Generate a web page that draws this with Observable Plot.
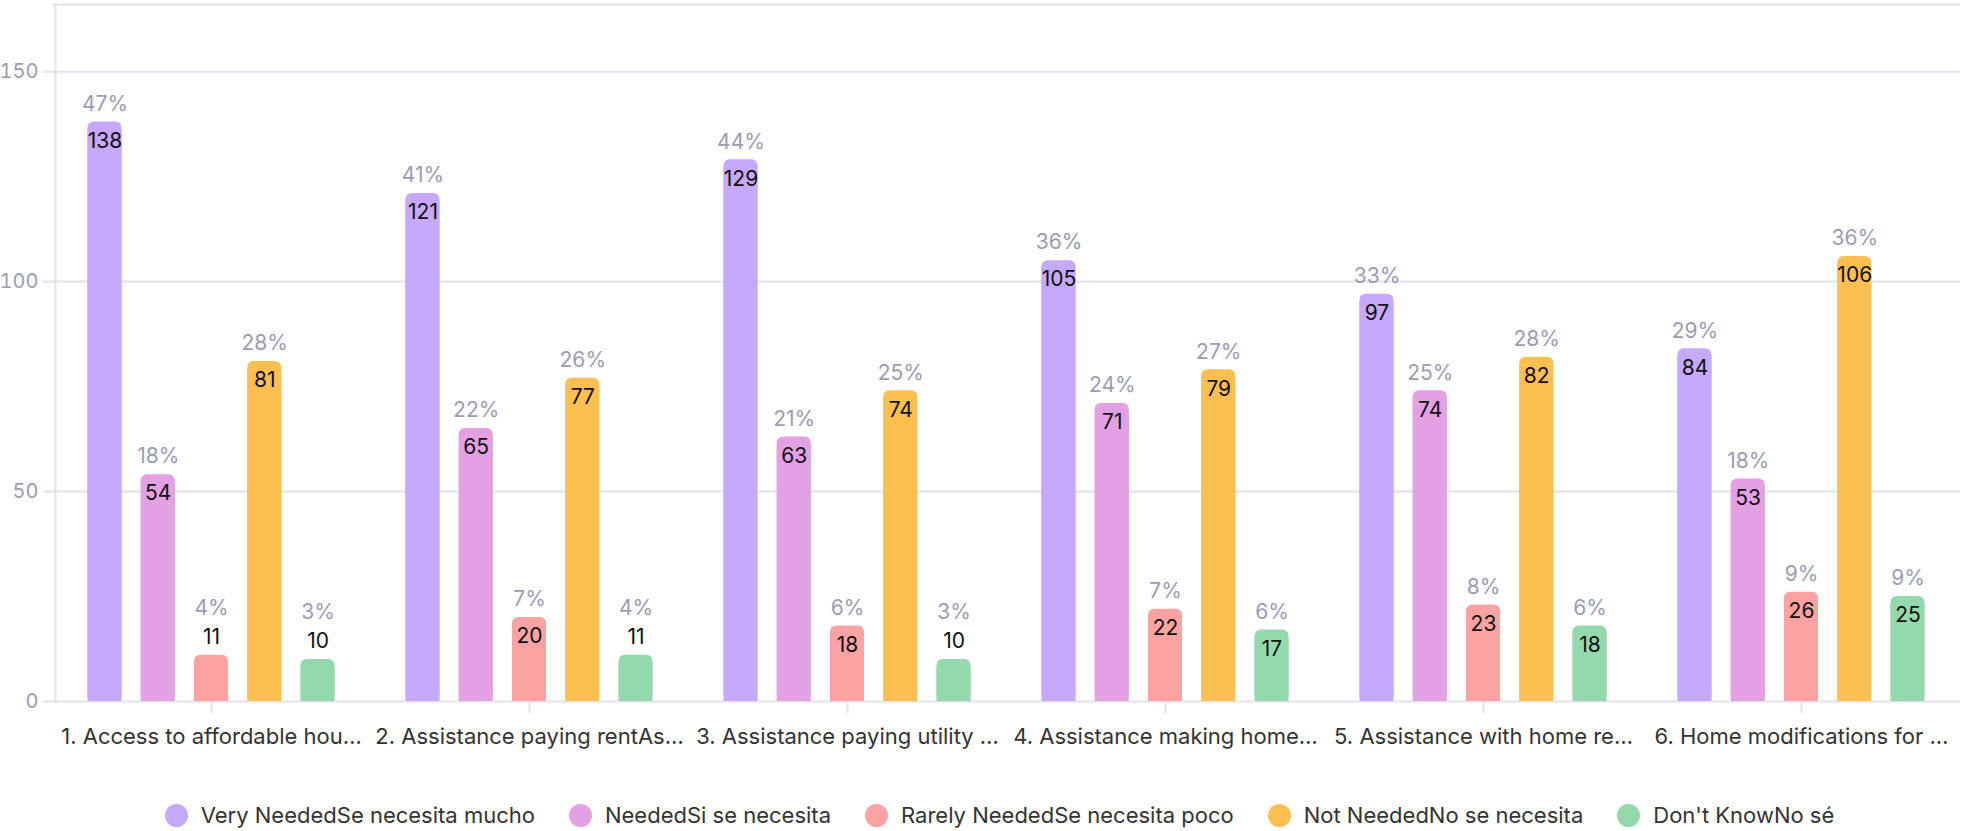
<!DOCTYPE html>
<html><head><meta charset="utf-8">
<script src="https://cdn.jsdelivr.net/npm/d3@7"></script>
<script src="https://cdn.jsdelivr.net/npm/@observablehq/plot@0.6"></script>
<style>
body{margin:0;background:#fff;font-family:Inter, sans-serif;}
#legend{display:flex;justify-content:center;align-items:center;gap:34px;height:30px;margin-top:30px;padding-left:38px;font-size:22px;color:#333;font-family:Inter, sans-serif;}
.item{display:flex;align-items:center;gap:13px;white-space:nowrap}
.sw{width:23px;height:23px;border-radius:50%}
</style></head><body><div id="chart"></div><div id="legend"></div>
<script>
const questions = [
  "1. Access to affordable hou…",
  "2. Assistance paying rentAs…",
  "3. Assistance paying utility …",
  "4. Assistance making home…",
  "5. Assistance with home re…",
  "6. Home modifications for …"
];
const series = [
  "Very NeededSe necesita mucho",
  "NeededSi se necesita",
  "Rarely NeededSe necesita poco",
  "Not NeededNo se necesita",
  "Don't KnowNo sé"
];
const colors = ["#c6a8fc", "#e3a0e3", "#fba3a3", "#fdbf50", "#94d9ab"];

const veryNeeded = [138, 121, 129, 105, 97, 84];
const needed     = [54, 65, 63, 71, 74, 53];
const rarely     = [11, 20, 18, 22, 23, 26];
const notNeeded  = [81, 77, 74, 79, 82, 106];
const dontKnow   = [10, 11, 10, 17, 18, 25];

const veryNeededPct = [47, 41, 44, 36, 33, 29];
const neededPct     = [18, 22, 21, 24, 25, 18];
const rarelyPct     = [4, 7, 6, 7, 8, 9];
const notNeededPct  = [28, 26, 25, 27, 28, 36];
const dontKnowPct   = [3, 4, 3, 6, 6, 9];

const yTicks = [0, 50, 100, 150];
const yMax = 166;

const counts = [veryNeeded, needed, rarely, notNeeded, dontKnow];
const pcts = [veryNeededPct, neededPct, rarelyPct, notNeededPct, dontKnowPct];
const rows = [];
questions.forEach((q, i) => series.forEach((s, j) => rows.push({question: q, series: s, value: counts[j][i], pct: pcts[j][i]})));
const inside = rows.filter(d => d.value >= 15);
const outside = rows.filter(d => d.value < 15);

const grid = "#e1e2ec";
const muted = "#9b9cb4";
const base = {fx: "question", x: "series", y: "value"};

const chart = Plot.plot({
  width: 1961, height: 770,
  marginTop: 4, marginLeft: 52, marginRight: 1, marginBottom: 69,
  style: {fontFamily: "Inter, sans-serif", fontSize: "21px", background: "#fff", overflow: "visible"},
  fx: {domain: questions, padding: 0, round: false, label: null},
  x: {domain: series, paddingInner: 0.362, paddingOuter: 0.666, round: false, axis: null},
  y: {domain: [0, yMax], label: null},
  color: {domain: series, range: colors},
  marks: [
    Plot.gridY(yTicks, {stroke: grid, strokeOpacity: 1, strokeWidth: 2}),
    Plot.ruleY([yMax], {stroke: grid, strokeWidth: 2}),
    Plot.frame({anchor: "left", facetAnchor: "left", stroke: grid, strokeWidth: 2, dx: 3}),
    Plot.axisY(yTicks, {tickSize: 12, tickPadding: 5, dx: 3, stroke: grid, strokeOpacity: 1, strokeWidth: 2, fill: muted, label: null, fontSize: 20}),
    Plot.axisFx({anchor: "bottom", tickSize: 12, tickPadding: 15, stroke: grid, strokeOpacity: 1, strokeWidth: 2, fill: "#333", label: null, fontSize: 22}),
    Plot.barY(rows, {...base, fill: "series", rx: 6}),
    Plot.barY(rows, {...base, fill: "series", insetTop: 8}),
    Plot.text(inside, {...base, text: d => String(d.value), dy: 19, fill: "#111", fontSize: 21}),
    Plot.text(inside, {...base, text: d => d.pct + "%", dy: -18, fill: muted, fontSize: 21}),
    Plot.text(outside, {...base, text: d => String(d.value), dy: -18, fill: "#111", fontSize: 21}),
    Plot.text(outside, {...base, text: d => d.pct + "%", dy: -47, fill: muted, fontSize: 21})
  ]
});
document.getElementById("chart").appendChild(chart);

const legend = document.getElementById("legend");
series.forEach((s, i) => {
  const item = document.createElement("div");
  item.className = "item";
  const sw = document.createElement("span");
  sw.className = "sw";
  sw.style.background = colors[i];
  const label = document.createElement("span");
  label.textContent = s;
  item.appendChild(sw);
  item.appendChild(label);
  legend.appendChild(item);
});
</script>
</body></html>
